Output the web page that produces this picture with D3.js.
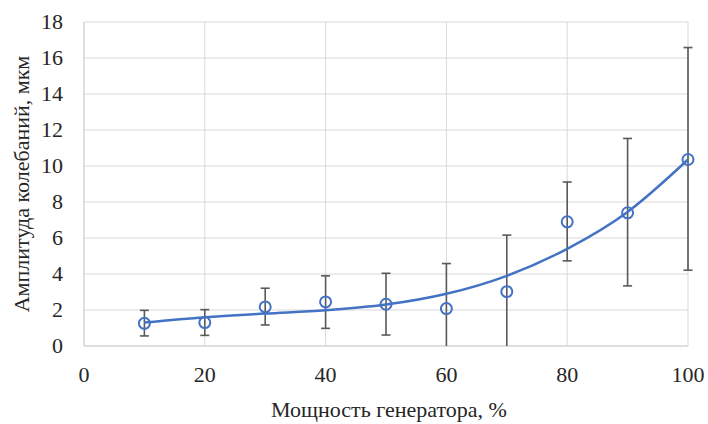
<!DOCTYPE html>
<body style="margin:0;background:#fff">
<script src="https://cdn.jsdelivr.net/npm/d3@7"></script>
<script>
    /////////////////////////////////////////////////////
    // DATA
    /////////////////////////////////////////////////////

    const power = [10, 20, 30, 40, 50, 60, 70, 80, 90, 100]
    const amplitude = [1.26, 1.3, 2.17, 2.45, 2.32, 2.08, 3.02, 6.9, 7.4, 10.36]
    const errUp = [1.98, 2.02, 3.21, 3.9, 4.04, 4.58, 6.16, 9.11, 11.53, 16.58]
    const errDown = [0.56, 0.59, 1.17, 0.98, 0.61, 0, 0, 4.73, 3.34, 4.21]
    //trend line
    const trendY = [1.3, 1.6, 1.8, 1.98, 2.3, 2.9, 3.9, 5.4, 7.45, 10.36]
    const xTicks = [0, 20, 40, 60, 80, 100]
    const yTicks = [0, 2, 4, 6, 8, 10, 12, 14, 16, 18]

    /////////////////////////////////////////////////////
    // SETUP
    /////////////////////////////////////////////////////

    const width = 708, height = 424
    const margin = { left: 84, right: 20, top: 22, bottom: 78 }
    const blue = "#4472C4"

    const svg = d3.select("body").append("svg")
        .attr("width", width)
        .attr("height", height)
        .style("display", "block")

    const x = d3.scaleLinear().domain([0, 100]).range([margin.left, width - margin.right])
    const y = d3.scaleLinear().domain([0, 18]).range([height - margin.bottom, margin.top])

    //Grid
    svg.append("g").selectAll("line").data(yTicks).join("line")
        .attr("x1", x(0)).attr("x2", x(100))
        .attr("y1", d => y(d)).attr("y2", d => y(d))
        .attr("stroke", d => d === 0 ? "#bfbfbf" : "#d9d9d9")
        .attr("stroke-width", 1)
    svg.append("g").selectAll("line").data(xTicks).join("line")
        .attr("x1", d => x(d)).attr("x2", d => x(d))
        .attr("y1", y(0)).attr("y2", y(18))
        .attr("stroke", d => d === 0 ? "#bfbfbf" : "#d9d9d9")
        .attr("stroke-width", 1)

    //All text in one group so the font is set once
    const txt = svg.append("g")
        .style("font-family", `"Times New Roman"`)
        .style("font-size", "22px")
        .attr("fill", "#262626")

    //Tick labels
    txt.append("g").selectAll("text").data(yTicks).join("text")
        .attr("x", margin.left - 21)
        .attr("y", d => y(d))
        .attr("dy", "0.33em")
        .attr("text-anchor", "end")
        .text(d => d)
    txt.append("g").selectAll("text").data(xTicks).join("text")
        .attr("x", d => x(d))
        .attr("y", y(0) + 36)
        .attr("text-anchor", "middle")
        .text(d => d)

    //Axis titles
    txt.append("text")
        .attr("x", (x(0) + x(100)) / 2 + 3)
        .attr("y", 417)
        .attr("text-anchor", "middle")
        .text("Мощность генератора, %")
    txt.append("text")
        .attr("transform", `translate(29,${(y(0) + y(18)) / 2}) rotate(-90)`)
        .attr("text-anchor", "middle")
        .text("Амплитуда колебаний, мкм")

    const pts = power.map((p, i) => ({ x: p, y: amplitude[i], up: errUp[i], down: errDown[i], t: trendY[i] }))

    //Error bars
    const eb = svg.append("g").attr("stroke", "#595959").attr("stroke-width", 1.6)
    pts.forEach(d => {
        eb.append("line").attr("x1", x(d.x)).attr("x2", x(d.x)).attr("y1", y(d.up)).attr("y2", y(d.down))
        eb.append("line").attr("x1", x(d.x) - 4.5).attr("x2", x(d.x) + 4.5).attr("y1", y(d.up)).attr("y2", y(d.up))
        if (d.down > 0)
            eb.append("line").attr("x1", x(d.x) - 4.5).attr("x2", x(d.x) + 4.5).attr("y1", y(d.down)).attr("y2", y(d.down))
    })

    //Trend line
    const line = d3.line()
        .x(d => x(d.x))
        .y(d => y(d.t))
        .curve(d3.curveMonotoneX)
    svg.append("path")
        .datum(pts)
        .attr("d", line)
        .attr("fill", "none")
        .attr("stroke", blue)
        .attr("stroke-width", 2.5)

    //Markers
    svg.append("g").selectAll("circle").data(pts).join("circle")
        .attr("cx", d => x(d.x))
        .attr("cy", d => y(d.y))
        .attr("r", 5.5)
        .attr("fill", "none")
        .attr("stroke", blue)
        .attr("stroke-width", 2)
</script>
</body>
